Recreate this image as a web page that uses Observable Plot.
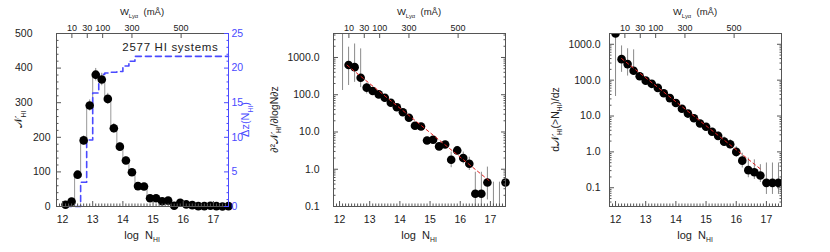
<!DOCTYPE html>
<html><head><meta charset="utf-8">
<script src="https://cdn.jsdelivr.net/npm/d3@7"></script>
<script src="https://cdn.jsdelivr.net/npm/@observablehq/plot@0.6"></script>
<style>
body{margin:0;background:#fff;}
#wrap{position:relative;width:830px;height:252px;overflow:hidden;font-family:"Liberation Sans",Arial,sans-serif;}
#wrap svg{position:absolute;left:0;top:0;}
</style></head><body><div id="wrap"></div>
<script>
// ---------- data ----------
// bin centres (left & middle panels)
const logN = [12.1,12.3,12.5,12.7,12.9,13.1,13.3,13.5,13.7,13.9,14.1,14.3,14.5,14.7,14.9,15.1,15.3,15.5,15.7,15.9,16.1,16.3,16.5,16.7,16.9,17.1,17.3,17.5];
// number of HI systems per bin
const counts = [5,14,92,191,292,381,367,311,226,173,133,99,59,58,24,24,15,17,2,11,6,4,1,1,2,1,0,1];
const countErr = [2,4,9,13,16,18,18,16,14,12,11,9,7,7,5,5,4,4,1,3,2,2,1,1,1,1,0,1];
// redshift path Δz(N_HI) per bin
const dz = [0,0,0,3.5,9.6,16.4,19.1,19.3,19.4,19.5,20.3,21.0,21.7,21.7,21.7,21.7,21.7,21.7,21.7,21.7,21.7,21.7,21.7,21.7,21.7,21.7,21.7,21.7];
// differential distribution ∂²N/∂logN∂z
const fVal = [NaN,630,550,285,155,126,102,83,61,46,34,24,14.7,14,5.9,6.2,4.1,4.6,1.8,3.2,2.0,1.4,0.22,0.22,0.44,NaN,NaN,0.44];
const fLo  = [130,177,215,155,105,110,90,74,54,40,29,20,12.5,12,4.8,5.0,3.2,3.7,1.1,2.5,1.4,0.93,0.05,0.05,0.15,0.05,0.05,0.05];
const fHi  = [1e4,1890,2300,1700,205,145,115,93,68,52,39,28,17,16.5,7.3,7.6,5.2,5.7,2.9,4.1,2.9,2.1,0.83,0.83,1.14,0.45,0.45,0.9];
// cumulative distribution dN(>N_HI)/dz at bin lower edges
const logNcum = [12.0,12.2,12.4,12.6,12.8,13.0,13.2,13.4,13.6,13.8,14.0,14.2,14.4,14.6,14.8,15.0,15.2,15.4,15.6,15.8,16.0,16.2,16.4,16.6,16.8,17.0,17.2,17.4];
const cVal = [2000,385,280,183,128,97,79,61,43,31.6,23,16,11.7,8.7,6.2,5.0,3.64,2.8,1.93,1.64,1.0,0.57,0.31,0.27,0.22,0.137,0.137,0.137];
const cLo  = [35,165,130,140,112,86,70,54,38,27.5,20,13.8,10,7.4,5.2,4.1,2.9,2.2,1.45,1.2,0.7,0.355,0.19,0.17,0.14,0.065,0.065,0.065];
const cHi  = [2000,900,750,700,146,110,89,69,49,36.5,26.5,18.5,13.6,10.2,7.4,6.1,4.5,3.6,2.6,2.2,1.4,0.92,0.67,0.6,0.44,0.49,0.49,0.49];
// power-law fits
const fitMidX = [12.25,16.95], fitMidY = [620,0.5];
const fitCumX = [12.2,16.85], fitCumY = [400,0.31];
// top axis: equivalent width W_Lyα (mÅ) at log N_HI
const wLab = ["10","30","100","300","500"];
const wPos = [12.31,12.82,13.33,14.30,15.93];
const xMajor = [12,13,14,15,16,17];
const leftTicks = [0,100,200,300,400,500];
const dzTicks = [0,5,10,15,20,25];
const logTicks = [0.1,1,10,100,1000];

// ---------- layout ----------
const W = 830, H = 252, mT = 33, mB = 46;
const frames = [[56,228],[333,505],[609,781]];
const xDomain = [11.8,17.5];
const ink = "#222", frameCol = "#555", errCol = "#8a8a8a", blue = "#4a4aff", red = "#e02020";
const idx = d3.range(logN.length);
const xMinor = d3.range(11.9,17.5,0.1).map(v=>+v.toFixed(1)).filter(v=>!xMajor.includes(v));
function logMinor(lo,hi){const r=[];for(let e=-3;e<5;e++)for(let m=2;m<10;m++){const v=m*Math.pow(10,e);if(v>=lo&&v<=hi)r.push(v);}return r;}

function xAxes(){
  return [
    Plot.axisX({anchor:"bottom",ticks:xMajor,tickSize:0,tickPadding:9,fontSize:10.5,label:null,tickFormat:d=>String(d)}),
    Plot.axisX({anchor:"bottom",ticks:xMajor,tickSize:-5,text:null,label:null,stroke:frameCol}),
    Plot.axisX({anchor:"bottom",ticks:xMinor,tickSize:-2.5,text:null,label:null,stroke:frameCol}),
    Plot.axisX({anchor:"top",ticks:wPos,tickSize:0,tickPadding:3,fontSize:9,label:null,tickFormat:d=>wLab[wPos.indexOf(d)]}),
    Plot.axisX({anchor:"top",ticks:wPos,tickSize:-4,text:null,label:null,stroke:frameCol})
  ];
}
function base(k, y, marks){
  return Plot.plot({
    width:W,height:H,marginTop:mT,marginBottom:mB,
    marginLeft:frames[k][0],marginRight:W-frames[k][1],
    x:{domain:xDomain},y,
    style:{background:"transparent",fontFamily:"'Liberation Sans',Arial,sans-serif",fontSize:"10px",color:ink,overflow:"visible"},
    marks
  });
}

// left panel
const p1 = base(0,{domain:[0,500]},[
  Plot.line(idx,{x:i=>logN[i],y:i=>counts[i],curve:"step",stroke:"#999",strokeWidth:1}),
  Plot.line(idx,{x:i=>logN[i],y:i=>dz[i]*20,curve:"step",stroke:blue,strokeWidth:1.6,strokeDasharray:"6,4"}),
  Plot.ruleX(idx,{x:i=>logN[i],y1:i=>counts[i]-countErr[i],y2:i=>counts[i]+countErr[i],stroke:errCol}),
  Plot.dot(idx,{x:i=>logN[i],y:i=>counts[i],r:4.3,fill:"#000"}),
  Plot.frame({stroke:frameCol}),
  Plot.ruleX([xDomain[1]],{stroke:blue}),
  ...xAxes(),
  Plot.axisY({anchor:"left",ticks:[300,400,500],tickSize:0,tickPadding:24,fontSize:10.5,label:null}),
  Plot.axisY({anchor:"left",ticks:[0,100,200],tickSize:0,tickPadding:6,fontSize:10.5,label:null}),
  Plot.axisY({anchor:"left",ticks:leftTicks,tickSize:-5,text:null,label:null,stroke:frameCol}),
  Plot.axisY({anchor:"left",ticks:d3.range(20,500,20).filter(v=>v%100),tickSize:-2.5,text:null,label:null,stroke:frameCol}),
  Plot.axisY({anchor:"right",ticks:dzTicks.map(v=>v*20),tickSize:0,tickPadding:3,fontSize:10.5,label:null,fill:blue,tickFormat:d=>String(d/20)}),
  Plot.axisY({anchor:"right",ticks:dzTicks.map(v=>v*20),tickSize:-5,text:null,label:null,stroke:blue}),
  Plot.axisY({anchor:"right",ticks:d3.range(20,500,20).filter(v=>v%100),tickSize:-2.5,text:null,label:null,stroke:blue}),
  Plot.text(["2577 HI systems"],{text:d=>d,frameAnchor:"top-right",dx:-10,dy:9,textAnchor:"end",lineAnchor:"top",fontSize:11.5,fill:ink,className:"note"})
]);

function logPanel(k, dom, labelPad, xs, vals, lo, hi, fx, fy, clipDots){
  return base(k,{type:"log",domain:dom},[
    Plot.ruleX(idx,{x:i=>xs[i],y1:i=>lo[i],y2:i=>hi[i],stroke:errCol,clip:true}),
    Plot.dot(idx,{x:i=>xs[i],y:i=>vals[i],r:4.3,fill:"#000",clip:clipDots}),
    Plot.line(fx.map((x,i)=>({x,y:fy[i]})),{x:"x",y:"y",stroke:red,strokeWidth:1,strokeDasharray:"3,3"}),
    Plot.frame({stroke:frameCol}),
    ...xAxes(),
    Plot.axisY({anchor:"left",ticks:logTicks,tickSize:0,tickPadding:labelPad,fontSize:10.5,label:null,tickFormat:d=>d.toFixed(1)}),
    Plot.axisY({anchor:"left",ticks:logTicks,tickSize:-5,text:null,label:null,stroke:frameCol}),
    Plot.axisY({anchor:"left",ticks:logMinor(dom[0],dom[1]),tickSize:-2.5,text:null,label:null,stroke:frameCol}),
    Plot.axisY({anchor:"right",ticks:logTicks,tickSize:-5,text:null,label:null,stroke:frameCol}),
    Plot.axisY({anchor:"right",ticks:logMinor(dom[0],dom[1]),tickSize:-2.5,text:null,label:null,stroke:frameCol})
  ]);
}
const p2 = logPanel(1,[0.1,4400],14,logN,fVal,fLo,fHi,fitMidX,fitMidY,false);
const p3 = logPanel(2,[0.03,2000],9,logNcum,cVal,cLo,cHi,fitCumX,fitCumY,true);

const wrap = document.getElementById("wrap");
[p1,p2,p3].forEach(p=>wrap.appendChild(p));
d3.select(p1).selectAll(".note text").style("letter-spacing","0.7px");

// ---------- titles with subscripts ----------
function label(svg, x, y, rot, parts, size, color){
  const t = d3.select(svg).append("text")
    .attr("transform",`translate(${x},${y})`+(rot?` rotate(${rot})`:""))
    .attr("text-anchor","middle").attr("fill",color||ink)
    .style("font-size",size+"px").style("font-family","'Liberation Sans',Arial,sans-serif");
  let down = false;
  const sh = size*0.32;
  for (const [s,sub] of parts){
    const ts = t.append("tspan").text(s);
    if (sub){ ts.style("font-size",(size*0.62)+"px"); if(!down){ts.attr("dy",sh);down=true;} }
    else if (down){ ts.attr("dy",-sh); down=false; }
  }
}
const N = "\u{1D4A9}";
frames.forEach(([a,b],k)=>{
  const svg=[p1,p2,p3][k], cx=(a+b)/2;
  label(svg,cx,238.5,0,[["log  N"],["HI",1]],11);
  label(svg,cx,15,0,[["W"],["Lyα",1],["  (mÅ)"]],9.5);
});
const cy = (mT + H - mB)/2;
label(p1,22,cy,-90,[[N],["HI",1]],11);
label(p1,249,cy,-90,[["Δz(N"],["HI",1],[")"]],11,blue);
label(p2,278,cy,-90,[["∂²"+N],["HI",1],["/∂logN∂z"]],10.5);
label(p3,559,cy,-90,[["d"+N],["HI",1],["(>N"],["HI",1],[")/dz"]],10.5);
</script></body></html>
